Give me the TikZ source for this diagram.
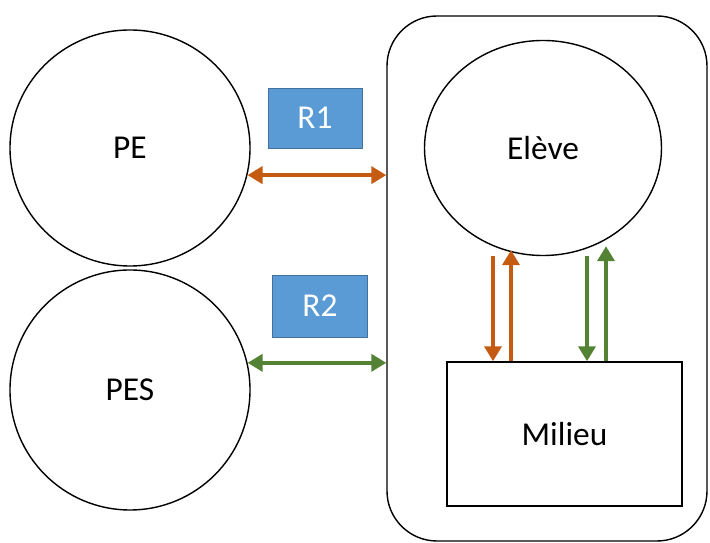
\documentclass[tikz,border=0pt]{standalone}
\usepackage{fontspec}
\setmainfont{Carlito}
\usepackage{xcolor}
\usepackage{tikz}
\usetikzlibrary{shapes,arrows.meta,positioning,calc}
\definecolor{relorange}{HTML}{C55A11}
\definecolor{relgreen}{HTML}{548235}
\definecolor{relblue}{HTML}{5B9BD5}
\definecolor{relblueline}{HTML}{41719C}

\begin{document}
\begin{tikzpicture}[
    actor/.style={ellipse, draw, thick, minimum width=4.8cm, minimum height=4.72cm, font=\fontsize{19}{23}\selectfont},
    label/.style={rectangle, draw=relblueline, fill=relblue, text=white, minimum width=1.88cm, minimum height=1.2cm, font=\fontsize{19}{23}\selectfont},
    orarrow/.style={{Triangle[length=0.3cm,width=0.34cm]}-{Triangle[length=0.3cm,width=0.34cm]}, line width=2.2pt, draw=relorange},
    grarrow/.style={{Triangle[length=0.3cm,width=0.34cm]}-{Triangle[length=0.3cm,width=0.34cm]}, line width=2.2pt, draw=relgreen},
    uparrow/.style={-{Triangle[length=0.3cm,width=0.34cm]}, line width=2.2pt}
]
\useasboundingbox (0,0) rectangle (14.2,10.86);

% Frame around the learner and the milieu
\node[draw, thick, rounded corners=1cm, minimum width=6.4cm, minimum height=10.5cm] (frame) at (10.94,5.29) {};

% Left actors
\node[actor] (PE) at (2.6,7.9) {PE};
\node[actor, minimum height=4.8cm] (PES) at (2.6,3.06) {PES};

% Learner and milieu
\node[actor, minimum width=4.74cm, minimum height=4.3cm] (eleve) at (10.86,7.9) {Elève};
\node[rectangle, draw, thick, minimum width=4.7cm, minimum height=2.88cm, font=\fontsize{19}{23}\selectfont] (milieu) at (11.29,2.18) {Milieu};

% Relation labels
\node[label] (R1) at (6.3,8.5) {R1};
\node[label, minimum width=1.9cm, minimum height=1.24cm] (R2) at (6.4,4.74) {R2};

% Arrows to the frame
\draw[orarrow] (PE.-13) -- (PE.-13 -| frame.west);
\draw[grarrow] (PES.13) -- (PES.13 -| frame.west);

% Arrows between learner and milieu
\coordinate (od) at ($(milieu.north)+(-1.43,0)$);
\coordinate (ou) at ($(milieu.north)+(-1.07,0)$);
\coordinate (gd) at ($(milieu.north)+(0.45,0)$);
\coordinate (gu) at ($(milieu.north)+(0.83,0)$);
\draw[uparrow, relorange] (od |- eleve.south) -- (od);
\draw[uparrow, relorange] (ou) -- ($(ou |- eleve.south)+(0,0.12)$);
\draw[uparrow, relgreen] (gd |- eleve.south) -- (gd);
\draw[uparrow, relgreen] (gu) -- ($(gu |- eleve.south)+(0,0.2)$);

\end{tikzpicture}
\end{document}
